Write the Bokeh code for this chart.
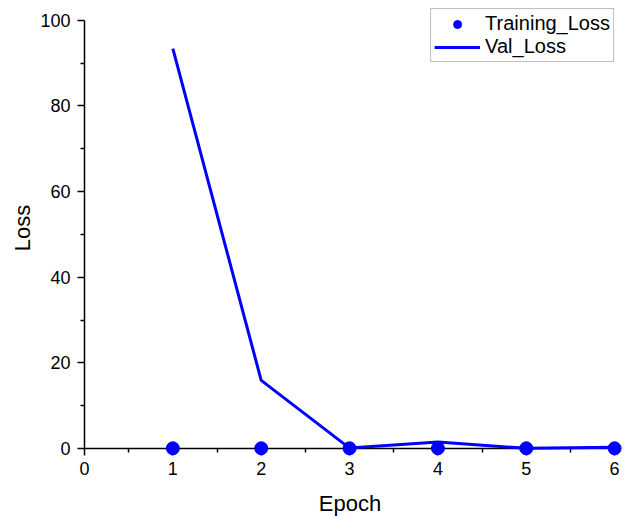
from bokeh.plotting import figure
from bokeh.models import Range1d, Legend, LegendItem, FixedTicker
from bokeh.embed import file_html
from bokeh.resources import INLINE

epochs = [1, 2, 3, 4, 5, 6]
training_loss = [0.05, 0.05, 0.05, 0.05, 0.05, 0.05]
val_loss = [93.4, 15.9, 0.1, 1.5, 0.05, 0.3]

x_ticks = [0, 1, 2, 3, 4, 5, 6]
y_ticks = [0, 20, 40, 60, 80, 100]

FONT = "Liberation Sans"
BLUE = "#0000ff"

p = figure(width=628, height=518, output_backend="svg", toolbar_location=None,
           x_range=Range1d(0, 6.01), y_range=Range1d(0, 103),
           min_border_left=84, min_border_right=13, min_border_top=7, min_border_bottom=70)
p.outline_line_color = None
p.xgrid.grid_line_color = None
p.ygrid.grid_line_color = None
p.background_fill_color = "white"
p.border_fill_color = "white"

line_r = p.line(epochs, val_loss, line_color=BLUE, line_width=3, level="overlay")
pts_r = p.scatter(epochs, training_loss, size=13, fill_color=BLUE, line_color=BLUE, level="overlay")

# axes
xa = p.xaxis[0]
xa.ticker = FixedTicker(ticks=x_ticks, minor_ticks=[0.5, 1.5, 2.5, 3.5, 4.5, 5.5])
xa.axis_label = "Epoch"
ya = p.yaxis[0]
ya.ticker = FixedTicker(ticks=y_ticks, minor_ticks=[10, 30, 50, 70, 90])
ya.bounds = (0, 100)
ya.axis_label = "Loss"
for ax in (xa, ya):
    ax.axis_line_width = 1.5
    ax.axis_line_color = "black"
    ax.major_tick_line_width = 1.5
    ax.minor_tick_line_width = 1.5
    ax.major_tick_out = 7
    ax.major_tick_in = 0
    ax.minor_tick_out = 4
    ax.minor_tick_in = 0
    ax.major_label_text_font = FONT
    ax.major_label_text_font_size = "18px"
    ax.major_label_text_color = "black"
    ax.axis_label_text_font = FONT
    ax.axis_label_text_font_size = "22px"
    ax.axis_label_text_font_style = "normal"
    ax.axis_label_text_color = "black"
xa.major_label_standoff = 6
xa.axis_label_standoff = 13
ya.major_label_standoff = 7
ya.axis_label_standoff = 2

legend = Legend(items=[LegendItem(label="Training_Loss", renderers=[pts_r]),
                       LegendItem(label="Val_Loss", renderers=[line_r])],
                location="top_right", margin=1)
legend.border_line_color = "#808080"
legend.border_line_width = 1
legend.label_text_font = FONT
legend.label_text_font_size = "20px"
legend.label_text_color = "black"
legend.glyph_width = 46
legend.glyph_height = 20
legend.label_height = 20
legend.label_standoff = 5
legend.padding = 3
legend.spacing = 0
legend.background_fill_alpha = 1
p.add_layout(legend)

open("out.html", "w").write(file_html(p, INLINE))
